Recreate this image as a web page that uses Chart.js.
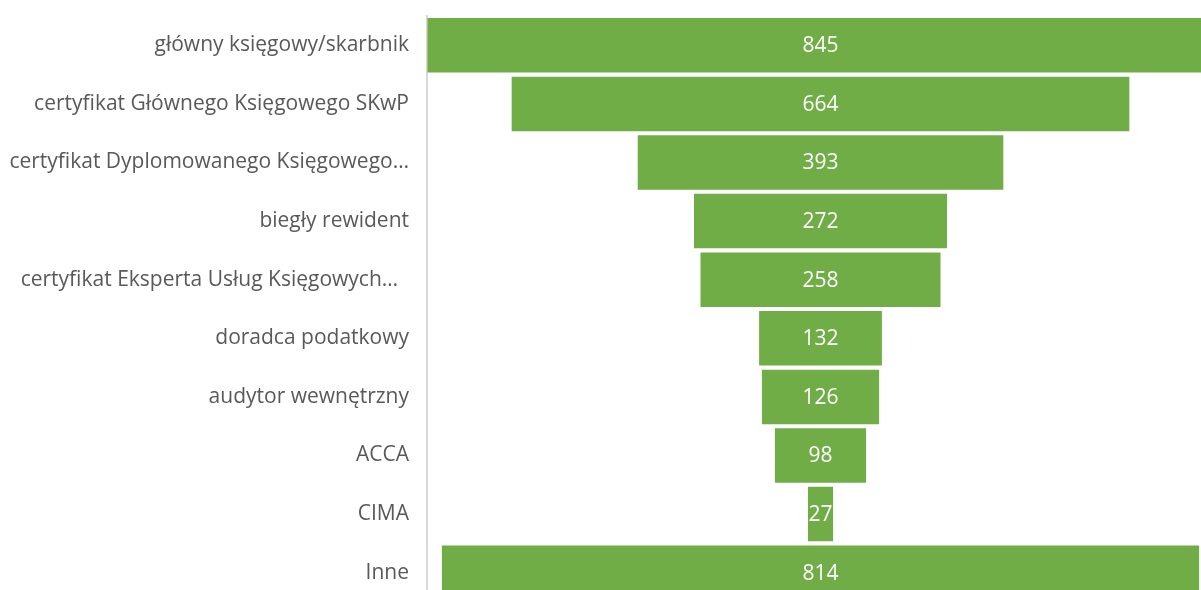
<!DOCTYPE html>
<html>
<head>
<meta charset="utf-8">
<script src="https://cdn.jsdelivr.net/npm/chart.js@4"></script>
<style>
  html, body { margin: 0; padding: 0; background: #fff; overflow: hidden; }
  canvas { display: block; }
</style>
</head>
<body>
<canvas id="funnelChart" width="1201" height="602"></canvas>
<script>
// dane lejka
const categories = [
    'główny księgowy/skarbnik',
    'certyfikat Głównego Księgowego SKwP',
    'certyfikat Dyplomowanego Księgowego…',
    'biegły rewident',
    'certyfikat Eksperta Usług Księgowych…  ',
    'doradca podatkowy',
    'audytor wewnętrzny',
    'ACCA',
    'CIMA',
    'Inne'
];
const counts = [845, 664, 393, 272, 258, 132, 126, 98, 27, 814];

// słupki wyśrodkowane wokół zera (lejek)
const funnelData = counts.map(v => [-v / 2, v / 2]);

const valueLabels = {
    id: 'valueLabels',
    afterDatasetsDraw(chart) {
        const ctx = chart.ctx;
        const meta = chart.getDatasetMeta(0);
        ctx.save();
        ctx.font = '21px "Open Sans"';
        ctx.fillStyle = '#ffffff';
        ctx.textAlign = 'center';
        ctx.textBaseline = 'middle';
        meta.data.forEach((bar, i) => {
            const x = chart.scales.x.getPixelForValue(0);
            ctx.fillText(String(counts[i]), x, bar.y + 1);
        });
        ctx.restore();
    }
};

const ctxFunnel = document.getElementById('funnelChart').getContext('2d');
new Chart(ctxFunnel, {
    type: 'bar',
    data: {
        labels: categories,
        datasets: [{
            data: funnelData,
            backgroundColor: '#70ad47',
            borderSkipped: false,
            barPercentage: 0.93,
            categoryPercentage: 1.0
        }]
    },
    options: {
        indexAxis: 'y',
        responsive: false,
        animation: false,
        layout: { padding: { top: 16, right: 0, bottom: 0, left: 0 } },
        plugins: {
            legend: { display: false },
            tooltip: { enabled: false }
        },
        scales: {
            x: {
                display: false,
                min: -423,
                max: 409
            },
            y: {
                grid: { display: false, drawTicks: false },
                border: { display: true, color: '#d9d9d9', width: 2 },
                ticks: {
                    color: '#595959',
                    font: { family: 'Open Sans', size: 21 },
                    padding: 18
                },
                afterFit(scale) {
                    scale.width = 427;
                    scale.paddingTop = 0;
                    scale.paddingBottom = 0;
                }
            }
        }
    },
    plugins: [valueLabels]
});
</script>
</body>
</html>
